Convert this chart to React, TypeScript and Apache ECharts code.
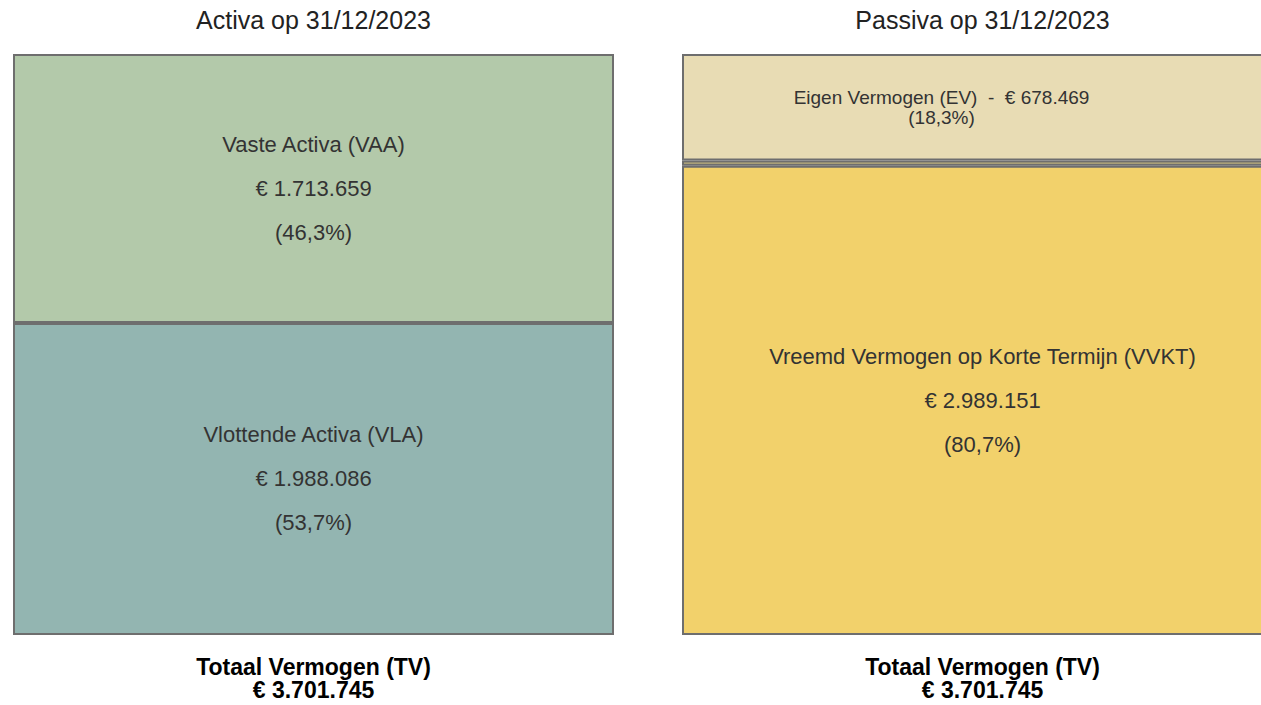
import React, { useEffect, useRef } from "react";
import * as echarts from "echarts";

// ---- Data ----
const activaNames = ["Vaste Activa (VAA)", "Vlottende Activa (VLA)"];
const activaValues = [1713659, 1988086];
const activaColors = ["#b3c9aa", "#93b5b1"];

const passivaNames = [
  "Eigen Vermogen (EV)",
  "Vreemd Vermogen op Lange Termijn (VVLT)",
  "Vreemd Vermogen op Korte Termijn (VVKT)",
];
const passivaValues = [678469, 34125, 2989151];
const passivaColors = ["#e8dcb4", "#bdb07c", "#f2d16b"];

const titles = ["Activa op 31/12/2023", "Passiva op 31/12/2023"];
const totalLabel = "Totaal Vermogen (TV)";

const fmtEuro = (v: number) =>
  "€ " + String(Math.round(v)).replace(/\B(?=(\d{3})+(?!\d))/g, ".");
const fmtPct = (v: number, total: number) =>
  "(" + ((v / total) * 100).toFixed(1).replace(".", ",") + "%)";

const FONT = "'Liberation Sans', Arial, sans-serif";

export default function App() {
  const ref = useRef<HTMLDivElement>(null);

  useEffect(() => {
    if (!ref.current) return;
    const chart = echarts.init(ref.current, undefined, { renderer: "svg" });
    const totalA = activaValues.reduce((a, b) => a + b, 0);
    const totalP = passivaValues.reduce((a, b) => a + b, 0);

    const gridW = 601;
    const gridH = 581;
    const gridTop = 54;
    const leftX = [13, 682];

    const border = { borderColor: "#6e6e6e", borderWidth: 2 };

    const makeSeries = (
      names: string[],
      values: number[],
      colors: string[],
      total: number,
      idx: number,
      stack: string
    ) =>
      names.map((name, i) => {
        const small = values[i] / total < 0.05;
        const compact = values[i] / total < 0.25;
        return {
          type: "bar",
          name,
          stack,
          xAxisIndex: idx,
          yAxisIndex: idx,
          barWidth: "100%",
          data: [values[i]],
          itemStyle: { color: colors[i], ...border },
          label: {
            show: !small,
            position: "inside",
            offset: compact ? [-41, 0] : [0, 0],
            color: "#333",
            fontFamily: FONT,
            fontSize: compact ? 19 : 22,
            lineHeight: compact ? 20 : 44,
            align: "center",
            formatter: () =>
              compact
                ? name + "  -  " + fmtEuro(values[i]) + "\n" + fmtPct(values[i], total)
                : name + "\n" + fmtEuro(values[i]) + "\n" + fmtPct(values[i], total),
          },
          emphasis: { disabled: true },
        };
      });

    const centers = leftX.map((x) => x + gridW / 2);

    const textStyle = (text: string, font: string, fill: string) => ({
      text,
      fill,
      font,
      textAlign: "center",
      textVerticalAlign: "middle",
      align: "center",
      verticalAlign: "middle",
    });

    chart.setOption({
      animation: false,
      grid: leftX.map((x) => ({ left: x, top: gridTop, width: gridW, height: gridH })),
      xAxis: [0, 1].map((i) => ({
        type: "category",
        gridIndex: i,
        data: [titles[i]],
        show: false,
      })),
      yAxis: [0, 1].map((i) => ({
        type: "value",
        gridIndex: i,
        min: 0,
        max: i === 0 ? totalA : totalP,
        inverse: true,
        show: false,
      })),
      series: [
        ...makeSeries(activaNames, activaValues, activaColors, totalA, 0, "a"),
        ...makeSeries(passivaNames, passivaValues, passivaColors, totalP, 1, "p"),
      ],
      graphic: [
        ...titles.map((t, i) => ({
          type: "text",
          x: centers[i],
          y: 20,
          style: textStyle(t, `25px ${FONT}`, "#222"),
        })),
        ...[totalA, totalP].map((_, i) => ({
          type: "text",
          x: centers[i],
          y: 666.5,
          style: textStyle(totalLabel, `bold 23px ${FONT}`, "#000"),
        })),
        ...[totalA, totalP].map((tot, i) => ({
          type: "text",
          x: centers[i],
          y: 690,
          style: textStyle(fmtEuro(tot), `bold 23px ${FONT}`, "#000"),
        })),
      ],
    });

    return () => chart.dispose();
  }, []);

  return (
    <div
      style={{
        position: "fixed",
        left: 0,
        top: 0,
        width: 1261,
        height: 705,
        overflow: "hidden",
        background: "#fff",
      }}
    >
      <div ref={ref} style={{ width: 1300, height: 705 }} />
    </div>
  );
}
